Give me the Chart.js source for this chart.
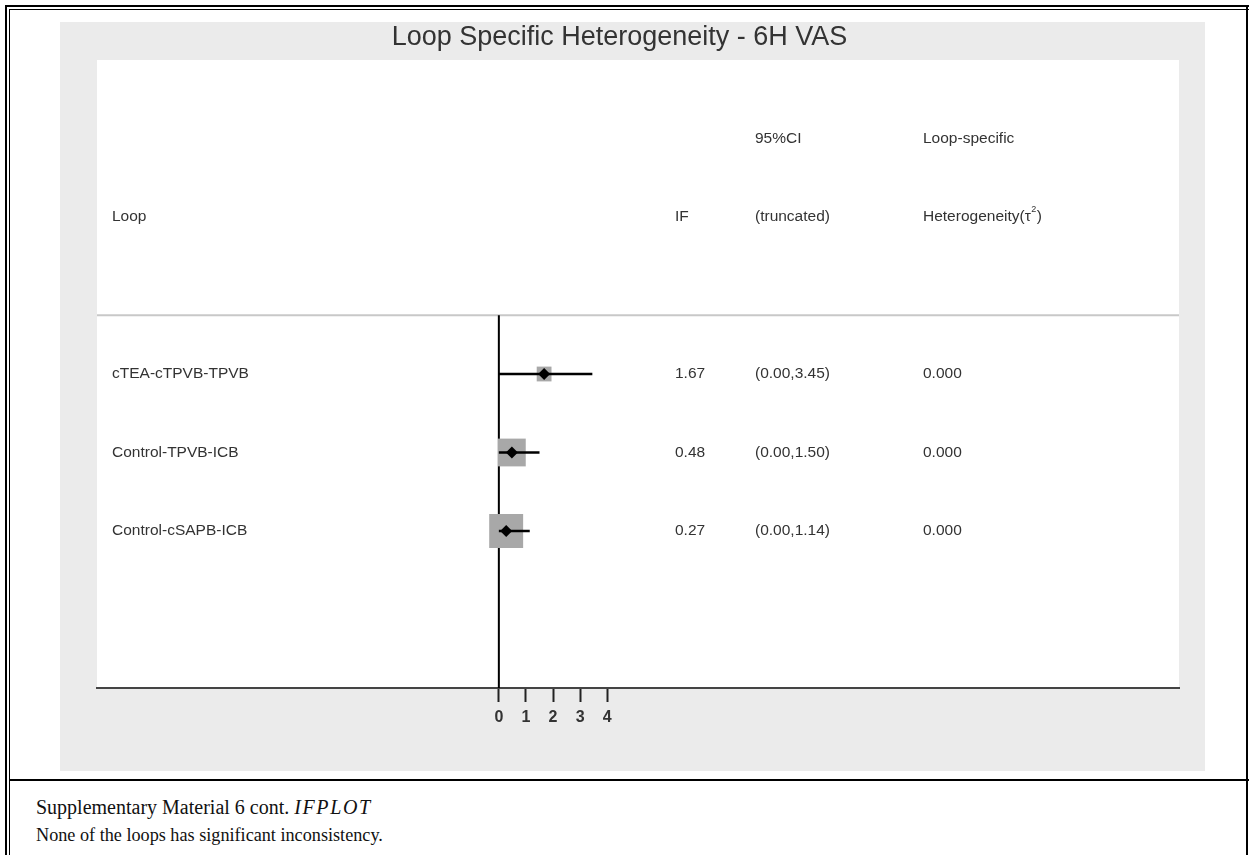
<!DOCTYPE html>
<html>
<head>
<meta charset="utf-8">
<title>Loop Specific Heterogeneity - 6H VAS</title>
<script src="https://cdn.jsdelivr.net/npm/chart.js@4.4.1/dist/chart.umd.min.js"></script>
<style>
  body { margin: 0; background: #fff; }
  #page { position: relative; width: 1249px; height: 855px; overflow: hidden; }
  .rule { position: absolute; background: #000; }
  #panel { position: absolute; left: 60px; top: 22px; width: 1145px; height: 749px; background: #ebebeb; }
  .caption {
    position: absolute; left: 36px; white-space: nowrap;
    font-family: "Liberation Serif", "DejaVu Serif", serif;
    line-height: 20px; color: #111;
  }
  #cap1 { top: 797px; font-size: 20px; }
  #cap1 i { letter-spacing: 1.6px; }
  #cap2 { top: 825px; font-size: 18.2px; }
</style>
</head>
<body>
<div id="page">
  <div class="rule" style="left:5px;top:5px;width:1244px;height:2px"></div>
  <div class="rule" style="left:9px;top:9px;width:1240px;height:1px"></div>
  <div class="rule" style="left:5px;top:5px;width:2px;height:850px"></div>
  <div class="rule" style="left:9px;top:9px;width:1px;height:846px"></div>
  <div class="rule" style="left:1246px;top:5px;width:2px;height:850px"></div>
  <div class="rule" style="left:9px;top:779px;width:1240px;height:2px"></div>
  <div id="panel"><canvas id="ifplot"></canvas></div>
  <div class="caption" id="cap1">Supplementary Material 6 cont. <i>IFPLOT</i></div>
  <div class="caption" id="cap2">None of the loops has significant inconsistency.</div>
</div>

<script>
const loops = ['cTEA-cTPVB-TPVB', 'Control-TPVB-ICB', 'Control-cSAPB-ICB'];
const ifValues = [1.67, 0.48, 0.27];
const ciLower = [0.00, 0.00, 0.00];
const ciUpper = [3.45, 1.50, 1.14];
const tau2 = [0.000, 0.000, 0.000];
const loopWeight = [0.19, 0.67, 1.00];   // relative weight -> grey box area
const axisTicks = [0, 1, 2, 3, 4];

const X_MIN = -14.83;
const X_MAX = 25.10;
const HEADER_LINE = 0.25;

Chart.defaults.font.family = '"Liberation Sans", Arial, sans-serif';
Chart.defaults.color = '#333';

const rowY = loops.map((_, i) => i + 1);

// white plotting region + header/table text + title
const tablePlugin = {
  id: 'ifTable',
  beforeDraw(chart) {
    const { ctx, chartArea: a } = chart;
    ctx.save();
    ctx.fillStyle = '#fff';
    ctx.fillRect(a.left, a.top, a.right - a.left, a.bottom - a.top);
    ctx.restore();
  },
  afterDatasetsDraw(chart) {
    const { ctx, chartArea: a, scales: { y } } = chart;
    const col = { loop: a.left + 15, ifv: a.left + 578, ci: a.left + 658, tau: a.left + 826 };

    ctx.save();
    ctx.fillStyle = '#333';
    ctx.textBaseline = 'middle';
    ctx.textAlign = 'left';
    ctx.font = '15.5px "Liberation Sans", Arial, sans-serif';

    const h1 = y.getPixelForValue(-2);
    const h2 = y.getPixelForValue(-1);
    ctx.fillText('95%CI', col.ci, h1);
    ctx.fillText('Loop-specific', col.tau, h1);
    ctx.fillText('Loop', col.loop, h2);
    ctx.fillText('IF', col.ifv, h2);
    ctx.fillText('(truncated)', col.ci, h2);
    ctx.fillText('Heterogeneity(\u03C4', col.tau, h2);
    // small raised 2 for tau squared
    const w = ctx.measureText('Heterogeneity(\u03C4').width;
    ctx.font = '9px "Liberation Sans", Arial, sans-serif';
    ctx.fillText('2', col.tau + w + 0.5, h2 - 7);
    ctx.font = '15.5px "Liberation Sans", Arial, sans-serif';
    ctx.fillText(')', col.tau + w + 6, h2);

    loops.forEach((name, i) => {
      const py = y.getPixelForValue(rowY[i]);
      ctx.fillText(name, col.loop, py);
      ctx.fillText(ifValues[i].toFixed(2), col.ifv, py);
      ctx.fillText('(' + ciLower[i].toFixed(2) + ',' + ciUpper[i].toFixed(2) + ')', col.ci, py);
      ctx.fillText(tau2[i].toFixed(3), col.tau, py);
    });

    // title
    ctx.textAlign = 'center';
    ctx.fillStyle = '#333';
    ctx.font = '27px "Liberation Sans", Arial, sans-serif';
    ctx.fillText('Loop Specific Heterogeneity - 6H VAS', chart.width / 2 - 13, 16);
    ctx.restore();
  }
};

const ciSets = loops.map((_, i) => ({
  data: [{ x: ciLower[i], y: rowY[i] }, { x: ciUpper[i], y: rowY[i] }],
  showLine: true,
  borderColor: '#000',
  borderWidth: 2.5,
  pointRadius: 0,
  order: 2
}));

new Chart(document.getElementById('ifplot'), {
  type: 'scatter',
  data: {
    datasets: [
      {
        label: 'header rule',
        data: [{ x: X_MIN, y: HEADER_LINE }, { x: X_MAX, y: HEADER_LINE }],
        showLine: true,
        borderColor: '#c8c8c8',
        borderWidth: 2,
        pointRadius: 0,
        order: 5
      },
      {
        label: 'no inconsistency',
        data: [{ x: 0, y: HEADER_LINE }, { x: 0, y: 5 }],
        showLine: true,
        borderColor: '#000',
        borderWidth: 2,
        pointRadius: 0,
        order: 4
      },
      {
        label: 'weight',
        data: loops.map((_, i) => ({ x: ifValues[i], y: rowY[i] })),
        pointStyle: 'rect',
        pointRadius: c => 24 * Math.sqrt(loopWeight[c.dataIndex]),
        backgroundColor: '#a8a8a8',
        borderWidth: 0,
        order: 3
      },
      ...ciSets,
      {
        label: 'IF',
        data: loops.map((_, i) => ({ x: ifValues[i], y: rowY[i] })),
        pointStyle: 'rectRot',
        pointRadius: 6,
        backgroundColor: '#000',
        borderColor: '#000',
        borderWidth: 0,
        order: 1
      }
    ]
  },
  options: {
    responsive: true,
    maintainAspectRatio: false,
    animation: false,
    events: [],
    layout: { padding: { left: 37, right: 26, top: 38, bottom: 0 } },
    plugins: {
      legend: { display: false },
      tooltip: { enabled: false },
      title: { display: false }
    },
    scales: {
      x: {
        type: 'linear',
        min: X_MIN,
        max: X_MAX,
        afterBuildTicks: s => { s.ticks = axisTicks.map(v => ({ value: v })); },
        afterFit: s => { s.height = 83; },
        ticks: {
          font: { size: 16, weight: 'bold' },
          color: '#333',
          padding: 6,
          maxRotation: 0,
          autoSkip: false
        },
        grid: {
          drawOnChartArea: false,
          drawTicks: true,
          tickLength: 14,
          tickWidth: 2,
          tickColor: '#222'
        },
        border: { display: true, color: '#444', width: 2 }
      },
      y: {
        type: 'linear',
        min: -3,
        max: 5,
        reverse: true,
        display: false
      }
    }
  },
  plugins: [tablePlugin]
});
</script>
</body>
</html>
